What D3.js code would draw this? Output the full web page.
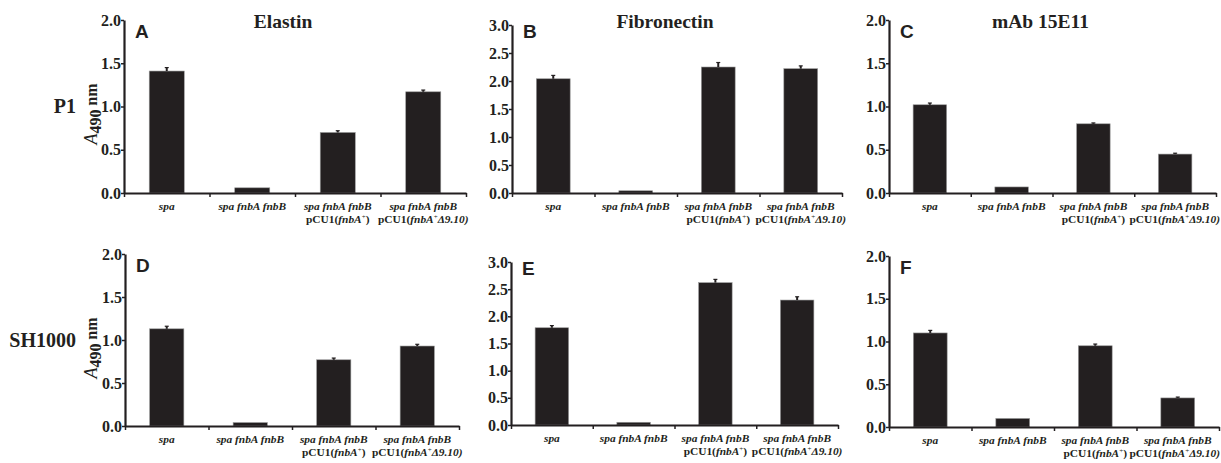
<!DOCTYPE html>
<html>
<head>
<meta charset="utf-8">
<script src="https://cdn.jsdelivr.net/npm/d3@7"></script>
<style>
  body { margin: 0; background: #fff; }
  svg { display: block; }
</style>
</head>
<body>
<svg width="1221" height="463"></svg>
<script>
// strains on the x axis (index only, labels built below)
const strains = ["spa", "spa fnbA fnbB", "spa fnbA fnbB pCU1(fnbA+)", "spa fnbA fnbB pCU1(fnbA+Δ9.10)"];

// A490 values, with upper error bar sizes
const elastinP1 = [1.41, 0.06, 0.70, 1.17];
const elastinP1Err = [0.04, 0, 0.02, 0.02];
const fibronectinP1 = [2.04, 0.04, 2.25, 2.22];
const fibronectinP1Err = [0.06, 0, 0.08, 0.05];
const mabP1 = [1.02, 0.07, 0.80, 0.45];
const mabP1Err = [0.02, 0, 0.01, 0.01];

const elastinSH = [1.13, 0.04, 0.77, 0.93];
const elastinSHErr = [0.03, 0, 0.02, 0.02];
const fibronectinSH = [1.79, 0.05, 2.62, 2.30];
const fibronectinSHErr = [0.04, 0, 0.06, 0.06];
const mabSH = [1.10, 0.10, 0.95, 0.34];
const mabSHErr = [0.03, 0, 0.02, 0.01];

const ticks2 = [0, 0.5, 1.0, 1.5, 2.0];
const ticks3 = [0, 0.5, 1.0, 1.5, 2.0, 2.5, 3.0];

const ink = "#231f20";
const serif = "'Liberation Serif', 'Times New Roman', serif";
const sans = "'Liberation Sans', Arial, sans-serif";
const W = 1221;

// panel layout: left/right of x axis, top (max) and bottom (0) of y axis
const panels = [
  { letter: "A", title: "Elastin", vals: elastinP1, err: elastinP1Err, max: 2, ticks: ticks2, x0: 124, x1: 466, top: 20, bottom: 193 },
  { letter: "B", title: "Fibronectin", vals: fibronectinP1, err: fibronectinP1Err, max: 3, ticks: ticks3, x0: 512, x1: 842, top: 25, bottom: 193 },
  { letter: "C", title: "mAb 15E11", vals: mabP1, err: mabP1Err, max: 2, ticks: ticks2, x0: 889, x1: 1216, top: 20, bottom: 193 },
  { letter: "D", title: "", vals: elastinSH, err: elastinSHErr, max: 2, ticks: ticks2, x0: 125, x1: 459, top: 254, bottom: 426 },
  { letter: "E", title: "", vals: fibronectinSH, err: fibronectinSHErr, max: 3, ticks: ticks3, x0: 511, x1: 838, top: 262, bottom: 425 },
  { letter: "F", title: "", vals: mabSH, err: mabSHErr, max: 2, ticks: ticks2, x0: 889, x1: 1219, top: 256, bottom: 427 }
];

const svg = d3.select("svg");

panels.forEach(p => {
  const g = svg.append("g");

  const y = d3.scaleLinear().domain([0, p.max]).range([p.bottom, p.top]);
  const x = d3.scaleBand().domain(d3.range(strains.length)).range([p.x0, p.x1])
    .paddingInner(0.59).paddingOuter(0.295);
  const xEdge = d3.scaleLinear().domain([0, strains.length]).range([p.x0, p.x1]);

  // bars
  g.selectAll("rect.bar")
    .data(p.vals)
    .enter().append("rect")
    .attr("class", "bar")
    .attr("x", (d, i) => x(i))
    .attr("width", x.bandwidth())
    .attr("y", d => y(d))
    .attr("height", d => y(0) - y(d))
    .attr("fill", ink)
    .attr("stroke", "#9a9a9a")
    .attr("stroke-width", 0.6);

  // upper error bars
  const eb = g.selectAll("g.err")
    .data(p.vals.map((v, i) => ({ v: v, e: p.err[i], i: i })).filter(d => d.e > 0))
    .enter().append("g");
  eb.append("line")
    .attr("x1", d => x(d.i) + x.bandwidth() / 2)
    .attr("x2", d => x(d.i) + x.bandwidth() / 2)
    .attr("y1", d => y(d.v))
    .attr("y2", d => y(d.v + d.e))
    .attr("stroke", ink).attr("stroke-width", 2);
  eb.append("line")
    .attr("x1", d => x(d.i) + x.bandwidth() / 2 - 2)
    .attr("x2", d => x(d.i) + x.bandwidth() / 2 + 2)
    .attr("y1", d => y(d.v + d.e))
    .attr("y2", d => y(d.v + d.e))
    .attr("stroke", ink).attr("stroke-width", 1.2);

  // y axis
  const ya = g.append("g")
    .attr("transform", `translate(${p.x0},0)`)
    .call(d3.axisLeft(y).tickValues(p.ticks).tickFormat(d3.format(".1f")).tickSize(3).tickSizeOuter(0));
  ya.select(".domain").attr("stroke", ink).attr("stroke-width", 2.2);
  ya.selectAll(".tick line").attr("stroke", ink).attr("stroke-width", 1.5);
  ya.selectAll(".tick text")
    .attr("x", -3)
    .attr("fill", ink)
    .style("font-family", serif).style("font-weight", "bold").style("font-size", "16px");

  // x axis with ticks at category borders
  const xa = g.append("g")
    .attr("transform", `translate(0,${p.bottom})`)
    .call(d3.axisBottom(xEdge).tickValues(d3.range(strains.length + 1)).tickFormat("").tickSize(4).tickSizeOuter(0));
  xa.select(".domain").attr("stroke", ink).attr("stroke-width", 2.2);
  xa.selectAll(".tick line").attr("stroke", ink).attr("stroke-width", 1.5);

  // category labels
  const lab = g.append("g")
    .style("font-family", serif).style("font-weight", "bold").style("font-size", "11.4px")
    .attr("fill", ink).attr("text-anchor", "middle");
  strains.forEach((s, i) => {
    const cx = x(i) + x.bandwidth() / 2;
    const l1 = p.bottom + 17;
    const l2 = l1 + 13;
    lab.append("text").attr("x", cx).attr("y", l1).style("font-style", "italic")
      .text(i === 0 ? "spa" : "spa fnbA fnbB");
    if (i >= 2) {
      const t = lab.append("text").attr("x", cx).attr("y", l2);
      t.append("tspan").text("pCU1(");
      t.append("tspan").style("font-style", "italic").text("fnbA");
      t.append("tspan").attr("dy", -4).style("font-size", "7px").style("font-weight", "normal").text("+");
      if (i === 3) t.append("tspan").attr("dy", 4).style("font-style", "italic").text("Δ9.10)");
      else t.append("tspan").attr("dy", 4).text(")");
      // keep the widest label inside the page
      const half = t.node().getComputedTextLength() / 2;
      if (cx + half > W - 1) t.attr("x", W - 1 - half);
    }
  });

  // panel letter
  g.append("text")
    .attr("x", p.x0 + 11)
    .attr("y", p.top + 18 - (p.max === 3 ? 5 : 0))
    .attr("fill", ink)
    .style("font-family", sans).style("font-weight", "bold").style("font-size", "19px")
    .text(p.letter);

  // title
  if (p.title) {
    g.append("text")
      .attr("x", (p.x0 + p.x1) / 2 - 12)
      .attr("y", 28)
      .attr("text-anchor", "middle")
      .attr("fill", ink)
      .style("font-family", serif).style("font-weight", "bold").style("font-size", "19.5px")
      .text(p.title);
  }
});

// row labels and y-axis titles
const rows = [{ name: "P1", cy: 114, base: 113 }, { name: "SH1000", cy: 348, base: 347 }];
rows.forEach(r => {
  svg.append("text")
    .attr("x", 76).attr("y", r.base)
    .attr("text-anchor", "end")
    .attr("fill", ink)
    .style("font-family", serif).style("font-weight", "bold").style("font-size", "20px")
    .text(r.name);

  const t = svg.append("text")
    .attr("transform", `translate(97,${r.cy}) rotate(-90)`)
    .attr("text-anchor", "middle")
    .attr("fill", ink)
    .style("font-family", serif).style("font-weight", "bold").style("font-size", "16px");
  t.append("tspan").style("font-style", "italic").style("font-weight", "normal").style("font-size", "18px").text("A");
  t.append("tspan").attr("dy", 4).text("490");
  t.append("tspan").attr("dy", -4).text(" nm");
});
</script>
</body>
</html>
